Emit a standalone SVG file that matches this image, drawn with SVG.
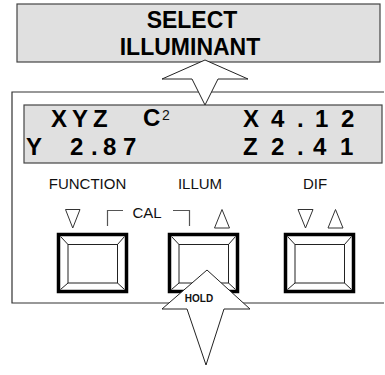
<svg xmlns="http://www.w3.org/2000/svg" width="385" height="375" viewBox="0 0 385 375">
<style>
.box{fill:#e0e0e0;stroke:#444;stroke-width:1.2}
.panel{fill:none;stroke:#333;stroke-width:1.2}
.arrow{fill:#fff;stroke:#222;stroke-width:1}
.big{font-family:"Liberation Sans",Arial,sans-serif;font-weight:bold;font-size:23px;fill:#000}
.lcd{font-family:"Liberation Sans",Arial,sans-serif;font-weight:bold;font-size:24px;fill:#000}
.lbl{font-family:"Liberation Sans",Arial,sans-serif;font-size:15px;fill:#111}
.tri{fill:#fff;stroke:#333;stroke-width:1}
.brk{fill:none;stroke:#555;stroke-width:1.2}
.outer{fill:#fff;stroke:#000;stroke-width:3.5}
.thin{fill:none;stroke:#222;stroke-width:1}
</style>
<rect width="385" height="375" fill="#fff"/>
<g id="select-illuminant">
<rect class="box" x="17" y="4" width="363" height="58"/>
<text class="big" x="192" y="28" text-anchor="middle">SELECT</text>
<text class="big" x="190" y="55" text-anchor="middle">ILLUMINANT</text>
</g>
<g id="panel">
<path class="panel" d="M384,92 H12 V303 H384"/>
<rect class="box" x="24" y="105" width="358" height="58"/>
<text class="lcd" x="51 72 93" y="127">XYZ</text>
<text class="lcd" x="143" y="126" font-size="23">C</text>
<text x="162" y="119.5" font-family="Liberation Sans,Arial,sans-serif" font-size="14" fill="#111">2</text>
<text class="lcd" x="243 271 297 315 341" y="127">X4.12</text>
<text class="lcd" x="26 70 91 103 123" y="155">Y2.87</text>
<text class="lcd" x="243 271 297 313 340" y="155">Z2.41</text>
<text class="lbl" x="87.5" y="189" text-anchor="middle">FUNCTION</text>
<text class="lbl" x="200" y="189" text-anchor="middle">ILLUM</text>
<text class="lbl" x="315" y="189" text-anchor="middle">DIF</text>
<text class="lbl" x="147" y="218" text-anchor="middle">CAL</text>
<polyline class="brk" points="107.5,226 107.5,210.5 123,210.5"/>
<polyline class="brk" points="173,210.5 189.5,210.5 189.5,226"/>
<polygon class="tri" points="65.5,209.5 80,209.5 72.75,228"/>
<polygon class="tri" points="214.5,228 229.5,228 222,209.5"/>
<polygon class="tri" points="298,209.5 313,209.5 305.5,228"/>
<polygon class="tri" points="328,228 343,228 335.5,209.5"/>
</g>
<g id="btn-function">
<rect class="outer" x="58.5" y="234.5" width="68" height="57"/>
<rect class="thin" x="68" y="244.5" width="49.5" height="38.5"/>
<path class="thin" d="M60.5,236.5 L68,244.5 M124.5,236.5 L117.5,244.5 M60.5,289.5 L68,283 M124.5,289.5 L117.5,283"/>
</g>
<g id="btn-illum">
<rect class="outer" x="169.5" y="234.5" width="68" height="57"/>
<rect class="thin" x="179" y="244.5" width="49.5" height="38.5"/>
<path class="thin" d="M171.5,236.5 L179,244.5 M235.5,236.5 L228.5,244.5 M171.5,289.5 L179,283 M235.5,289.5 L228.5,283"/>
</g>
<g id="btn-dif">
<rect class="outer" x="285.5" y="234.5" width="68" height="57"/>
<rect class="thin" x="295" y="244.5" width="49.5" height="38.5"/>
<path class="thin" d="M287.5,236.5 L295,244.5 M351.5,236.5 L344.5,244.5 M287.5,289.5 L295,283 M351.5,289.5 L344.5,283"/>
</g>
<g id="connectors">
<polygon class="arrow" points="205,60 248,79 218,79 205,105 192,79 162,79"/>
<polygon class="arrow" points="207,270 250,309 224,309 206,365 187,309 162,309"/>
</g>
<g id="hold">
<text x="199" y="302" text-anchor="middle" font-family="Liberation Sans,Arial,sans-serif" font-weight="bold" font-size="10" fill="#111">HOLD</text>
</g>
</svg>
